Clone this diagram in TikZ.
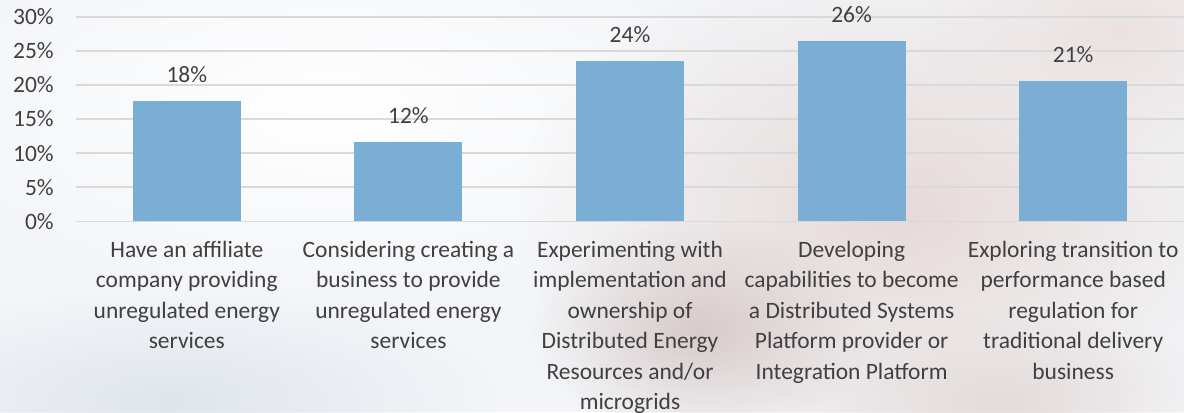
\documentclass[tikz,border=0pt]{standalone}
\usepackage{fontspec}
\setmainfont{Carlito}
\usepackage{xcolor}
\usepackage{tikz}
\usetikzlibrary{positioning,fadings}

\definecolor{barblue}{HTML}{7BAED4}
\definecolor{gridgray}{HTML}{D9D9D9}
\definecolor{textgray}{HTML}{404040}
\definecolor{paper}{HTML}{F3F5F8}
\definecolor{skin}{HTML}{E6DAD8}
\definecolor{skindark}{HTML}{D8CBCB}
\definecolor{mist}{HTML}{E0E5ED}

\tikzfading[name=blob, inner color=transparent!0, outer color=transparent!100]
\tikzset{
  lbl/.style={font=\fontsize{17.6}{22.9}\selectfont, text=textgray, inner sep=0pt},
  catlbl/.style={lbl, align=center},
  bar/.style={fill=barblue, draw=none, inner sep=0pt, anchor=south, minimum width=81pt},
  haze/.style={path fading=blob},
}

\begin{document}
\begin{tikzpicture}[x=0.75pt,y=-0.75pt]
\useasboundingbox (0,0) rectangle (1184,412);
\fill[paper] (0,0) rectangle (1184,412);%背景
\fill[white, haze] (330,110) ellipse (420 and 200);
\fill[skin, haze] (900,210) ellipse (380 and 260);
\fill[skin!80, haze] (1120,30) ellipse (200 and 120);
\fill[mist, haze] (170,400) ellipse (330 and 110);
\fill[skindark, haze] (700,330) ellipse (170 and 110);
\fill[skindark!70, haze] (1000,400) ellipse (220 and 90);

\foreach \v in {0,5,...,30}
  {
   \draw[gridgray, line width=1.2pt] (76,{221.3-6.82*\v}) -- (1184,{221.3-6.82*\v});%目盛り線
   \node[lbl, anchor=east] (tick\v) at (54,{221.3-6.82*\v}) {\v\%};
  }

\foreach \i / \x / \val / \pct / \txt in
  {1/186.8/17.6/18/{Have an affiliate\\company providing\\unregulated energy\\services},
   2/408.4/11.6/12/{Considering creating a\\business to provide\\unregulated energy\\services},
   3/630.0/23.5/24/{Experimenting with\\implementation and\\ownership of\\Distributed Energy\\Resources and/or\\microgrids},
   4/851.6/26.4/26/{Developing\\capabilities to become\\a Distributed Systems\\Platform provider or\\Integration Platform},
   5/1073.2/20.6/21/{Exploring transition to\\performance based\\regulation for\\traditional delivery\\business}}
  {
   \node[bar, minimum height={5.115*\val pt}] (bar\i) at (\x,221.3) {};%棒
   \node[lbl, above=13pt of bar\i] (val\i) {\pct\%};
   \node[catlbl, below=14.5pt of bar\i] (cat\i) {\txt};
  }
\end{tikzpicture}
\end{document}
